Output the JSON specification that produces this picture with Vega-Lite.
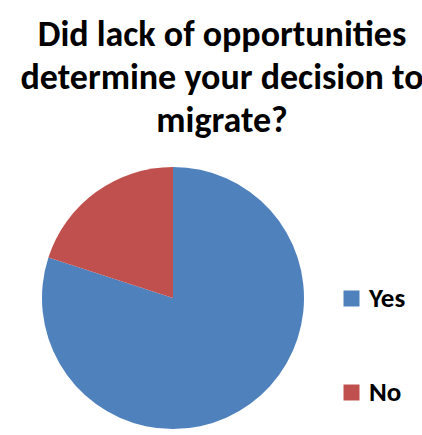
{
  "$schema": "https://vega.github.io/schema/vega-lite/v6.json",
  "width": 262,
  "height": 262,
  "autosize": "none",
  "padding": {"left": 42, "top": 167, "right": 118, "bottom": 6},
  "background": "white",
  "title": {
    "text": ["Did lack of opportunities", "determine your decision to", "migrate?"],
    "font": "Calibri, Carlito, Lato, sans-serif",
    "fontSize": 36,
    "fontWeight": "bold",
    "color": "#000000",
    "anchor": "middle",
    "baseline": "alphabetic",
    "lineHeight": 43,
    "offset": -1,
    "dx": 49
  },
  "data": {
    "values": [
      {"Answer": "Yes", "Share": 80},
      {"Answer": "No", "Share": 20}
    ]
  },
  "mark": {"type": "arc", "outerRadius": 131},
  "encoding": {
    "theta": {"field": "Share", "type": "quantitative", "stack": true},
    "order": {"field": "Answer", "sort": "descending"},
    "color": {
      "field": "Answer",
      "type": "nominal",
      "scale": {"domain": ["Yes", "No"], "range": ["#4F81BD", "#C0504D"]},
      "legend": {
        "title": null,
        "orient": "none",
        "legendX": 296,
        "legendY": 118,
        "symbolType": "square",
        "symbolSize": 256,
        "symbolStrokeWidth": 0,
        "labelFont": "Calibri, Carlito, Lato, sans-serif",
        "labelFontSize": 27,
        "labelFontWeight": "bold",
        "labelColor": "#000000",
        "labelOffset": 4,
        "rowPadding": 66
      }
    }
  },
  "config": {"view": {"stroke": null}}
}
